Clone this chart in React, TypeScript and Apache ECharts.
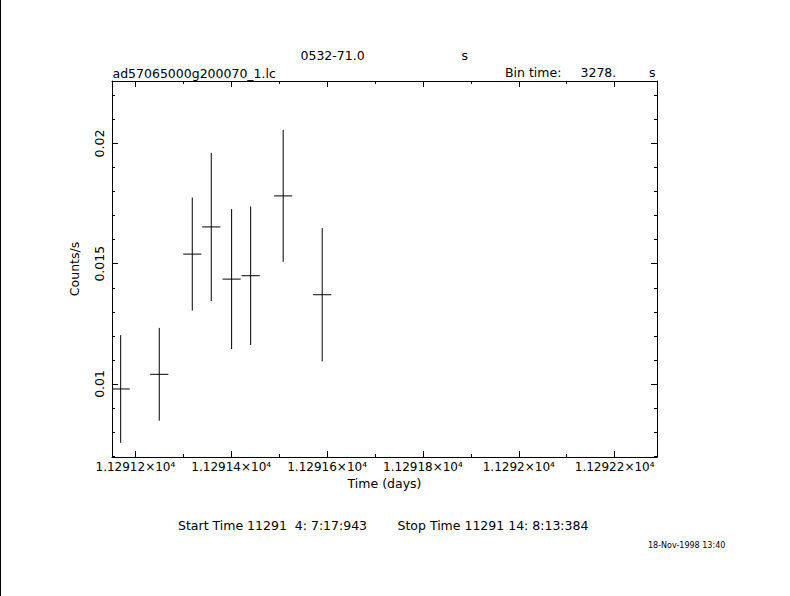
import React, { useEffect, useRef } from "react";
import * as echarts from "echarts";

// ---- data ----
const times = [11291.1693, 11291.2498, 11291.3187, 11291.3583, 11291.4008, 11291.4405, 11291.5084, 11291.5898];
const rates = [0.00979, 0.0104, 0.0154, 0.01653, 0.01436, 0.0145, 0.01782, 0.01371];
const rateErrors = [0.00224, 0.00193, 0.00235, 0.00308, 0.00291, 0.00288, 0.00274, 0.00277];
const binTimeSec = 3278;

const xMajorTicks = [11291.2, 11291.4, 11291.6, 11291.8, 11292.0, 11292.2];
const xTickLabels = ["1.12912×10⁴", "1.12914×10⁴", "1.12916×10⁴", "1.12918×10⁴", "1.1292×10⁴", "1.12922×10⁴"];
const xMinorTicks = [11291.3, 11291.5, 11291.7, 11291.9, 11292.1];
const yMajorTicks = [0.01, 0.015, 0.02];
const yTickLabels = ["0.01", "0.015", "0.02"];
const yMinorTicks = [0.007, 0.008, 0.009, 0.011, 0.012, 0.013, 0.014, 0.016, 0.017, 0.018, 0.019, 0.021, 0.022];

const X_MIN = 11291.1512;
const X_MAX = 11292.2884;
const Y_MIN = 0.00696;
const Y_MAX = 0.0226;

const FONT = "DejaVu Sans";

function nearestLabel(v: number, ticks: number[], labels: string[]) {
  let best = 0;
  for (let i = 1; i < ticks.length; i++) {
    if (Math.abs(ticks[i] - v) < Math.abs(ticks[best] - v)) best = i;
  }
  return labels[best];
}

export default function App() {
  const ref = useRef<HTMLDivElement>(null);
  useEffect(() => {
    if (!ref.current) return;
    const chart = echarts.init(ref.current, undefined, { renderer: "svg" });
    const halfBin = binTimeSec / 2 / 86400;
    const data = times.map((t, i) => [t, rates[i], rateErrors[i]]);

    const baseX = (position: string) => ({
      type: "value",
      min: X_MIN,
      max: X_MAX,
      position,
      splitLine: { show: false },
      axisLine: { show: true, onZero: false, lineStyle: { color: "#000", width: 1 } },
    });
    const baseY = (position: string) => ({
      type: "value",
      min: Y_MIN,
      max: Y_MAX,
      position,
      splitLine: { show: false },
      axisLine: { show: true, onZero: false, lineStyle: { color: "#000", width: 1 } },
    });

    const option: any = {
      animation: false,
      backgroundColor: "#fff",
      grid: { left: 112, top: 81, width: 545, height: 376, containLabel: false },
      xAxis: [
        {
          ...baseX("bottom"),
          name: "Time (days)",
          nameLocation: "middle",
          nameGap: 20,
          nameMoveOverlap: false,
          nameTextStyle: { color: "#000", fontFamily: FONT, fontSize: 12.5, lineHeight: 13 },
          axisTick: { show: true, inside: true, length: 6, customValues: xMajorTicks, lineStyle: { color: "#000" } },
          axisLabel: {
            show: true,
            margin: 3,
            customValues: xMajorTicks,
            color: "#000",
            fontFamily: FONT,
            fontSize: 12,
            lineHeight: 14,
            formatter: (v: number) => nearestLabel(v, xMajorTicks, xTickLabels),
          },
        },
        {
          ...baseX("bottom"),
          axisLine: { show: false, onZero: false },
          axisTick: { show: true, inside: true, length: 3, customValues: xMinorTicks, lineStyle: { color: "#000" } },
          axisLabel: { show: false },
        },
        {
          ...baseX("top"),
          axisTick: { show: true, inside: true, length: 6, customValues: xMajorTicks, lineStyle: { color: "#000" } },
          axisLabel: { show: false },
        },
        {
          ...baseX("top"),
          axisLine: { show: false, onZero: false },
          axisTick: { show: true, inside: true, length: 3, customValues: xMinorTicks, lineStyle: { color: "#000" } },
          axisLabel: { show: false },
        },
      ],
      yAxis: [
        {
          ...baseY("left"),
          name: "Counts/s",
          nameLocation: "middle",
          nameGap: 31,
          nameMoveOverlap: false,
          nameTextStyle: { color: "#000", fontFamily: FONT, fontSize: 12.5 },
          axisTick: { show: true, inside: true, length: 6, customValues: yMajorTicks, lineStyle: { color: "#000" } },
          axisLabel: {
            show: true,
            rotate: 90,
            margin: 6,
            customValues: yMajorTicks,
            color: "#000",
            fontFamily: FONT,
            fontSize: 12.5,
            formatter: (v: number) => nearestLabel(v, yMajorTicks, yTickLabels),
          },
        },
        {
          ...baseY("left"),
          axisLine: { show: false, onZero: false },
          axisTick: { show: true, inside: true, length: 3, customValues: yMinorTicks, lineStyle: { color: "#000" } },
          axisLabel: { show: false },
        },
        {
          ...baseY("right"),
          axisTick: { show: true, inside: true, length: 6, customValues: yMajorTicks, lineStyle: { color: "#000" } },
          axisLabel: { show: false },
        },
        {
          ...baseY("right"),
          axisLine: { show: false, onZero: false },
          axisTick: { show: true, inside: true, length: 3, customValues: yMinorTicks, lineStyle: { color: "#000" } },
          axisLabel: { show: false },
        },
      ],
      series: [
        {
          type: "custom",
          xAxisIndex: 0,
          yAxisIndex: 0,
          clip: true,
          encode: { x: 0, y: 1 },
          data,
          renderItem: (params: any, api: any) => {
            const x = api.value(0);
            const y = api.value(1);
            const e = api.value(2);
            const l = api.coord([x - halfBin, y]);
            const r = api.coord([x + halfBin, y]);
            const t = api.coord([x, y + e]);
            const b = api.coord([x, y - e]);
            return {
              type: "group",
              children: [
                { type: "line", shape: { x1: l[0], y1: l[1], x2: r[0], y2: r[1] }, style: { stroke: "#000", lineWidth: 1 } },
                { type: "line", shape: { x1: t[0], y1: t[1], x2: b[0], y2: b[1] }, style: { stroke: "#000", lineWidth: 1 } },
              ],
            };
          },
        },
      ],
      graphic: [
        { type: "rect", left: 0, top: 0, shape: { x: 0, y: 0, width: 1, height: 596 }, style: { fill: "#000" } },
        { type: "text", x: 300.5, y: 55.5, style: { text: "0532-71.0", fill: "#000", font: `12.5px "${FONT}"`, textVerticalAlign: "middle" } },
        { type: "text", x: 461.5, y: 55.5, style: { text: "s", fill: "#000", font: `12.5px "${FONT}"`, textVerticalAlign: "middle" } },
        { type: "text", x: 112.5, y: 73, style: { text: "ad57065000g200070_1.lc", fill: "#000", font: `12.5px "${FONT}"`, textVerticalAlign: "middle" } },
        { type: "text", x: 505, y: 72.5, style: { text: "Bin time:", fill: "#000", font: `12.5px "${FONT}"`, textVerticalAlign: "middle" } },
        { type: "text", x: 580.5, y: 72.5, style: { text: "3278.", fill: "#000", font: `12.5px "${FONT}"`, textVerticalAlign: "middle" } },
        { type: "text", x: 649, y: 72.5, style: { text: "s", fill: "#000", font: `12.5px "${FONT}"`, textVerticalAlign: "middle" } },
        { type: "text", x: 178, y: 525, style: { text: "Start Time 11291  4: 7:17:943", fill: "#000", font: `12.5px "${FONT}"`, textVerticalAlign: "middle" } },
        { type: "text", x: 397.5, y: 525, style: { text: "Stop Time 11291 14: 8:13:384", fill: "#000", font: `12.5px "${FONT}"`, textVerticalAlign: "middle" } },
        { type: "text", x: 648, y: 545, style: { text: "18-Nov-1998 13:40", fill: "#000", font: `8px "${FONT}"`, textVerticalAlign: "middle" } },
      ],
    };
    chart.setOption(option);
    return () => chart.dispose();
  }, []);
  return (
    <div
      ref={ref}
      style={{ position: "absolute", left: 0, top: 0, width: 790, height: 596, background: "#fff" }}
    />
  );
}
